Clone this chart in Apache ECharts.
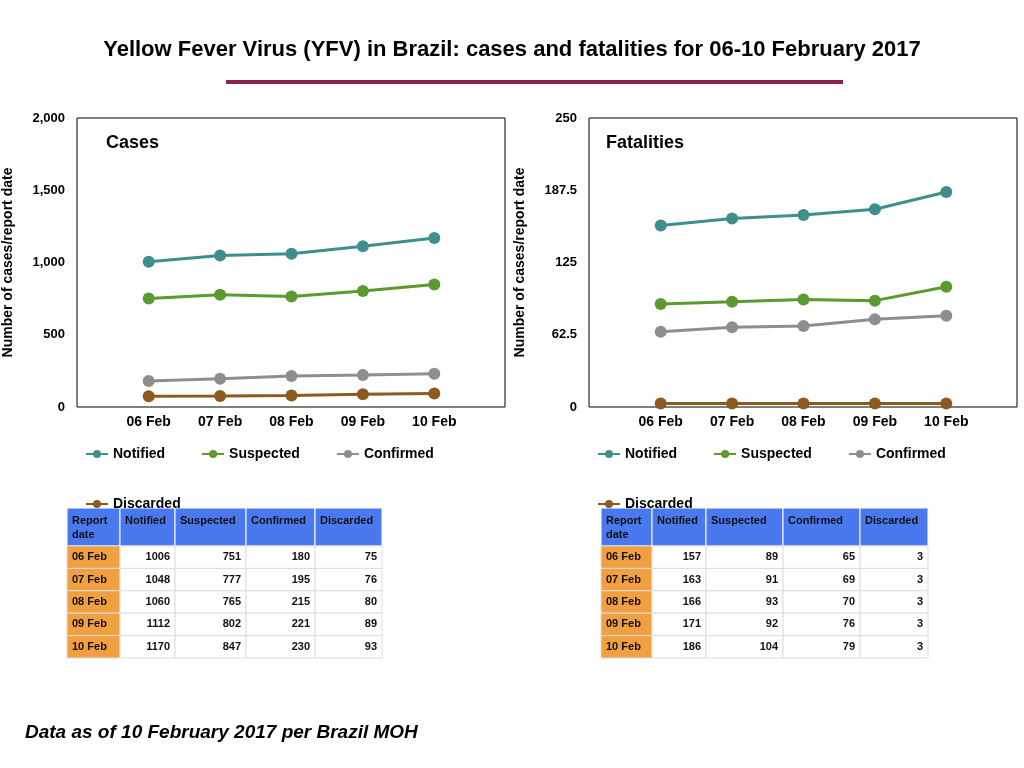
<!DOCTYPE html>
<html><head><meta charset="utf-8">
<script src="https://cdn.jsdelivr.net/npm/echarts@6/dist/echarts.min.js"></script>
<style>html,body{margin:0;padding:0;background:#fff}#c{width:1024px;height:768px}</style>
</head><body><div id="c"></div>
<script>
const categories = ['06 Feb','07 Feb','08 Feb','09 Feb','10 Feb'];
const seriesNames = ['Notified','Suspected','Confirmed','Discarded'];
const casesNotified = [1006,1048,1060,1112,1170];
const casesSuspected = [751,777,765,802,847];
const casesConfirmed = [180,195,215,221,230];
const casesDiscarded = [75,76,80,89,93];
const fatNotified = [157,163,166,171,186];
const fatSuspected = [89,91,93,92,104];
const fatConfirmed = [65,69,70,76,79];
const fatDiscarded = [3,3,3,3,3];
const colors = ['#3F8E8E','#5A9A2E','#8E8E8E','#8B5A1E'];

const casesData=[casesNotified,casesSuspected,casesConfirmed,casesDiscarded];
const fatData=[fatNotified,fatSuspected,fatConfirmed,fatDiscarded];
const font='Liberation Sans, Arial, sans-serif';

function mkSeries(data, idx){
  return data.map((d,i)=>({type:'line',name:seriesNames[i],xAxisIndex:idx,yAxisIndex:idx,data:d,
    symbol:'circle',symbolSize:12,lineStyle:{width:3,color:colors[i]},itemStyle:{color:colors[i]}}));
}

function table(x, cols, data){
  const els=[]; const top=508, hh=38, rh=22.4;
  const heads=['Report\ndate',...seriesNames];
  for(let c=0;c<5;c++){
    const x0=cols[c], w=cols[c+1]-cols[c];
    els.push({type:'rect',shape:{x:x0,y:top,width:w,height:hh},style:{fill:'#4A78EE',stroke:'#fff',lineWidth:1}});
    els.push({type:'text',x:x0+5,y:top+6,style:{text:heads[c],font:'bold 11px '+font,fill:'#111',lineHeight:14}});
    for(let r=0;r<5;r++){
      const y0=top+hh+r*rh;
      els.push({type:'rect',shape:{x:x0,y:y0,width:w,height:rh},style:{fill:c===0?'#F0A040':'#fff',stroke:'#ddd',lineWidth:1}});
      const t=c===0?categories[r]:String(data[c-1][r]);
      els.push({type:'text',x:c===0?x0+5:x0+w-5,y:y0+rh/2,style:{text:t,font:'bold 11px '+font,fill:'#111',align:c===0?'left':'right',verticalAlign:'middle'}});
    }
  }
  return els;
}

const yAxisCommon={type:'value',splitLine:{show:false},axisLine:{show:false},axisTick:{show:false},
  nameLocation:'middle',name:'Number of cases/report date',
  nameTextStyle:{fontFamily:font,fontWeight:'bold',fontSize:14,color:'#000'},
  axisLabel:{fontFamily:font,fontWeight:'bold',fontSize:13,color:'#000',margin:48}};
const xAxisCommon={type:'category',data:categories,axisLine:{show:false},axisTick:{show:false},
  axisLabel:{fontFamily:font,fontWeight:'bold',fontSize:14,color:'#000',margin:8}};

const chart=echarts.init(document.getElementById('c'));
chart.setOption({
  animation:false,
  title:[{text:'Yellow Fever Virus (YFV) in Brazil: cases and fatalities for 06-10 February 2017',left:'center',top:34,
    textStyle:{fontFamily:font,fontWeight:'bold',fontSize:22,color:'#000'}},
    {text:'Cases',left:101,top:129,textStyle:{fontFamily:font,fontWeight:'bold',fontSize:18,color:'#000'}},
    {text:'Fatalities',left:601,top:129,textStyle:{fontFamily:font,fontWeight:'bold',fontSize:18,color:'#000'}}],
  grid:[{left:113,width:357,top:118,height:289},{left:625,width:357,top:118,height:289}],
  xAxis:[Object.assign({gridIndex:0},xAxisCommon),Object.assign({gridIndex:1},xAxisCommon)],
  yAxis:[Object.assign({gridIndex:0,min:0,max:2000,interval:500,nameGap:98},yAxisCommon),
         Object.assign({gridIndex:1,min:0,max:250,interval:62.5,nameGap:98},yAxisCommon)],
  legend:[{left:80,top:442,width:390,itemGap:36,itemWidth:22,itemHeight:10,data:seriesNames,
    textStyle:{fontFamily:font,fontWeight:'bold',fontSize:14,color:'#000'}},
    {left:592,top:442,width:390,itemGap:36,itemWidth:22,itemHeight:10,data:seriesNames,
    textStyle:{fontFamily:font,fontWeight:'bold',fontSize:14,color:'#000'}}],
  series:[...mkSeries(casesData,0),...mkSeries(fatData,1)],
  graphic:[
    {type:'rect',shape:{x:226,y:80,width:617,height:4},style:{fill:'#8B2252'}},
    {type:'rect',shape:{x:77,y:118,width:428,height:289},style:{fill:'none',stroke:'#000',lineWidth:1}},
    {type:'rect',shape:{x:589,y:118,width:428,height:289},style:{fill:'none',stroke:'#000',lineWidth:1}},
    ...table(0,[67,120,175,246,315,382],casesData),
    ...table(0,[601,652,706,783,860,928],fatData),
    {type:'text',x:25,y:723,style:{text:'Data as of 10 February 2017 per Brazil MOH',font:'italic bold 19px '+font,fill:'#000'}}
  ]
});
</script></body></html>
